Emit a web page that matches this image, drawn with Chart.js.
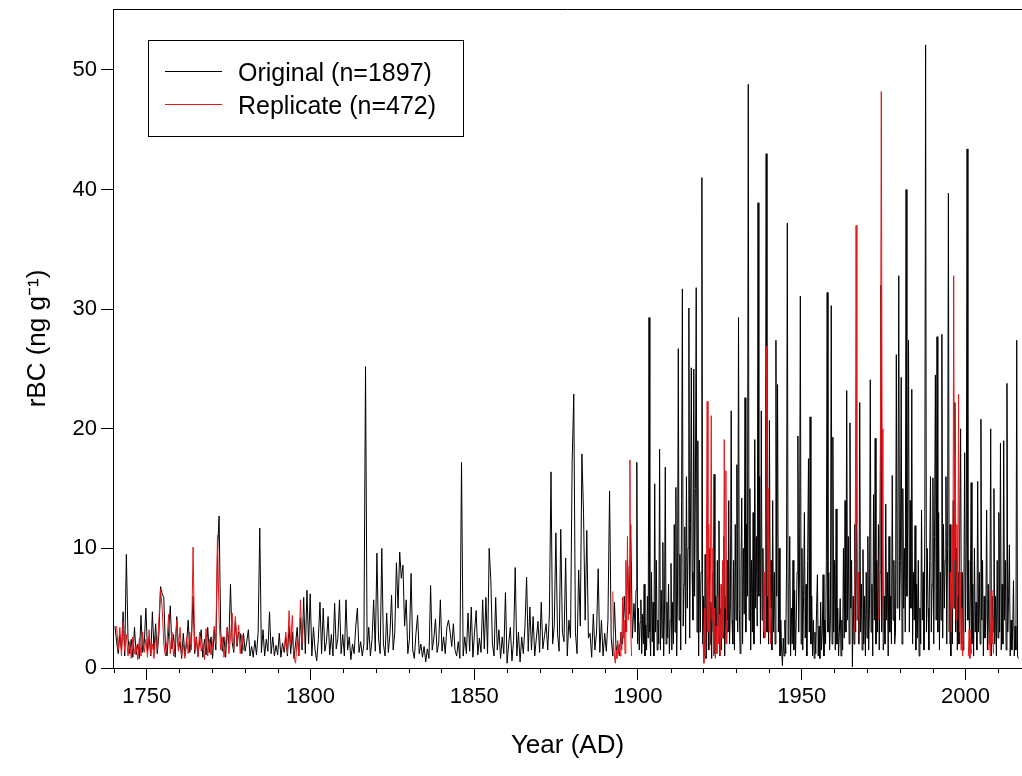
<!DOCTYPE html>
<html>
<head>
<meta charset="utf-8">
<script src="https://cdn.jsdelivr.net/npm/chart.js@4.4.1/dist/chart.umd.min.js"></script>
<style>
  html, body { margin: 0; padding: 0; background: #fff; }
</style>
</head>
<body>
<canvas id="myChart" width="1022" height="776"></canvas>
<script>
// axis ticks
var xMajorTicks = [1750, 1800, 1850, 1900, 1950, 2000];
var xMinorTicks = [1740, 1760, 1770, 1780, 1790, 1810, 1820, 1830, 1840, 1860, 1870, 1880, 1890,
                   1910, 1920, 1930, 1940, 1960, 1970, 1980, 1990, 2010];
var yTicks = [0, 10, 20, 30, 40, 50];

// original record, 1740 - ~1899, about two samples per year
var origEarlyStart = 1740.31, origEarlyStep = 0.4968;
var origE01 = [3.5,2.2,1.2,2.8,1.5,4.7,1.0,9.5,2.5,1.2,2.4,0.9,3.4,1.1,2.0,0.8,4.4,1.3,2.1,5.0];
var origE02 = [1.4,2.6,1.0,4.7,1.5,3.7,1.2,2.8,6.8,6.2,5.9,1.8,1.0,3.0,5.2,1.6,2.8,0.9,4.3,1.5];
var origE03 = [2.2,0.8,2.9,1.0,2.0,4.0,1.3,2.5,6.0,1.2,2.6,1.0,2.2,3.2,0.9,2.4,1.1,3.4,1.3,2.6];
var origE04 = [0.8,3.2,1.5,9.5,12.7,3.0,1.4,2.6,0.9,3.4,2.0,7.0,2.2,1.3,4.0,1.8,3.0,2.9,1.2,2.9];
var origE05 = [1.4,2.2,3.2,1.0,1.8,0.9,2.3,1.1,3.0,11.7,1.3,3.2,1.0,2.4,1.4,4.7,1.2,2.6,1.0,1.9];
var origE06 = [1.1,2.9,0.9,2.1,1.3,2.6,1.0,3.5,1.2,3.0,0.8,2.0,3.4,1.0,4.2,1.5,5.9,1.2,6.5,2.0];
var origE07 = [6.2,1.0,3.4,1.5,0.6,2.4,5.5,1.2,5.0,1.4,2.2,4.3,1.1,2.8,1.0,5.4,1.6,2.5,5.7,1.2];
var origE08 = [2.8,1.0,5.7,1.5,2.6,0.7,2.0,1.2,3.5,5.0,1.3,2.2,1.0,2.0,25.2,1.5,3.4,1.0,2.4,5.7];
var origE09 = [1.4,9.6,2.5,1.2,10.0,2.0,1.0,4.6,1.3,2.8,6.1,1.5,3.0,8.8,5.0,9.7,7.5,8.6,3.5,5.7];
var origE10 = [1.2,2.4,7.9,1.5,0.8,2.9,4.4,1.2,2.0,0.9,1.8,0.5,1.6,0.8,6.9,1.5,2.5,4.1,1.3,2.1];
var origE11 = [5.7,1.4,2.6,1.2,3.4,4.0,3.0,1.8,3.7,1.5,1.0,2.2,0.8,17.2,1.0,2.6,1.2,4.6,1.4,5.1];
var origE12 = [0.9,3.0,4.8,1.1,2.5,1.3,5.7,1.6,5.9,1.2,10.0,7.4,2.0,1.0,5.9,1.5,3.2,0.8,2.6,1.2];
var origE13 = [6.3,0.4,2.0,3.4,0.6,2.3,8.4,1.0,3.0,0.5,2.6,1.2,3.5,7.6,1.4,5.1,1.5,4.3,1.0,2.5];
var origE14 = [3.9,1.3,5.5,1.6,2.7,3.7,1.5,4.5,16.4,2.0,3.5,11.3,2.9,1.4,11.6,3.0,2.2,9.2,1.0,4.0];
var origE15 = [2.5,17.2,22.9,3.0,1.2,8.2,3.5,17.9,12.9,4.0,11.5,2.5,2.9,0.9,4.5,1.5,3.0,8.3,1.3,4.0];
var origE16 = [1.0,2.9,1.4,4.0,14.8,2.5,1.0,5.5,1.5,2.0,1.0,3.0,2.0,6.0,3.0,9.0,4.5,12.0,2.5,5.4];

// original record, ~1899 - 2016, about four samples per year
var origLateStart = 1899.16, origLateStep = 0.2484;
var origL01 = [3.0,6.5,17.2,2.0,5.0,1.5,3.8,5.7,1.2,4.5,2.0,7.0,1.0,3.6,1.5,6.0,2.5,29.3,3.0,1.0,
               8.0,2.2,5.5,1.0,15.4,3.0,9.0,1.5,4.0,2.0,18.3,1.5,6.5,2.5,10.5,1.0,4.5,16.8,2.0,5.5];
var origL02 = [2.5,7.0,1.2,4.0,8.75,1.5,5.5,2.0,12.0,3.0,15.1,1.0,6.0,26.7,4.0,9.5,1.5,14.0,31.7,3.5,
               7.0,11.8,2.0,16.0,5.0,10.0,30.1,2.5,12.0,25.1,8.0,4.0,25.0,6.0,15.0,31.8,3.0,19.0,1.0,9.0];
var origL03 = [3.0,8.0,41.0,2.0,6.0,1.0,9.5,0.8,4.0,7.5,1.5,10.0,2.0,5.5,0.8,8.0,3.0,16.2,1.2,6.0,
               2.0,9.0,3.5,12.3,1.0,5.0,1.5,7.0,2.5,11.0,1.0,6.0,2.0,9.0,3.0,14.0,2.0,5.0,21.5,4.0];
var origL04 = [2.0,9.0,1.5,12.0,4.0,17.0,3.0,29.3,5.0,1.2,8.0,14.2,2.0,10.0,4.5,22.6,3.0,12.0,6.0,48.8,
               4.0,15.0,1.5,9.0,3.0,13.0,2.0,19.1,5.0,11.0,3.5,38.9,6.0,16.0,2.0,21.5,4.0,10.0,2.5,7.0];
var origL05 = [6.0,43.0,3.0,12.0,2.0,20.7,5.0,9.0,1.5,14.0,3.0,8.0,2.0,27.4,6.0,23.7,3.0,10.0,1.0,4.0,
               1.5,0.2,2.5,1.0,4.0,1.2,8.0,37.2,2.0,6.0,11.0,1.0,5.0,2.0,9.0,1.5,6.5,1.0,4.0,8.0];
var origL06 = [19.4,3.0,8.0,31.1,2.0,10.0,1.5,6.0,13.0,2.5,7.0,1.0,9.0,17.5,3.0,21.0,2.0,6.0,1.0,4.0,
               0.8,3.0,1.2,5.0,7.8,1.0,3.5,0.8,5.5,1.5,3.0,7.8,1.0,4.0,2.0,9.0,31.4,3.0,8.0,1.5];
var origL07 = [4.0,30.3,2.0,19.3,3.0,9.0,1.5,13.3,2.0,5.0,1.0,3.0,5.8,1.0,4.0,1.5,10.0,2.5,14.0,3.0,
               23.2,4.0,11.0,2.0,20.5,5.0,9.0,0.1,6.0,2.0,12.0,3.0,15.0,4.0,8.0,2.0,22.2,3.0,7.0,1.5];
var origL08 = [9.9,2.0,6.0,1.0,8.0,2.5,11.0,1.5,5.0,24.1,3.0,7.0,1.0,14.5,4.0,19.2,2.0,9.0,3.0,12.0,
               1.5,8.0,32.0,3.0,10.0,1.5,6.0,2.0,13.7,4.0,8.0,1.0,11.0,3.0,6.0,2.0,16.1,4.0,9.0,2.0];
var origL09 = [3.0,26.2,5.0,12.0,32.8,4.0,9.0,24.3,2.0,15.0,5.0,10.0,3.0,40.0,6.0,12.0,27.4,3.0,14.0,5.0,
               23.3,2.0,8.0,4.0,11.9,1.5,7.0,2.5,9.0,1.0,5.0,2.0,13.2,4.0,8.0,1.5,12.0,52.1,3.0,10.0];
var origL10 = [5.0,1.5,9.0,16.0,3.0,7.0,15.9,2.0,11.0,24.5,4.0,27.7,3.0,13.0,1.5,8.0,4.0,27.9,2.5,12.0,
               5.0,9.0,16.0,2.0,10.0,39.7,3.0,12.0,1.0,7.0,2.0,14.0,5.0,22.2,3.0,10.0,1.5,8.0,2.0,12.0];
var origL11 = [20.0,2.0,8.0,1.5,6.0,18.0,3.0,10.0,43.4,4.0,9.0,1.5,6.0,15.5,2.0,7.0,1.0,10.0,3.0,5.5,
               1.5,15.6,3.0,8.0,2.0,20.8,4.0,9.0,1.0,6.0,2.5,4.0,13.2,1.5,7.0,2.0,5.0,20.0,1.0,6.0];
var origL12 = [3.0,15.0,2.0,6.0,1.0,9.0,2.5,13.0,3.0,18.8,1.5,7.0,2.0,19.0,4.0,9.0,1.5,23.8,3.0,6.0,
               10.3,1.0,4.0,1.5,3.0,7.3,1.0,3.5,1.5,27.4,1.0,0.8];

// replicate record: separate runs, [start year, step, values]
var rep1 = [3.5,1.5,3.4,1.0,3.9,1.4,2.8,1.0,2.2,0.8,2.6,1.2,1.9,0.7,2.5,1.0,3.0,1.3,2.4,0.9,
            3.2,1.1,2.0,0.8,2.7,1.5,4.0,6.6,5.0,2.0,1.0,2.3,4.5,1.2,3.0,1.0,2.2,4.0,1.4,3.4,
            1.0,2.0,0.8,2.6,1.2,3.0,1.5,10.1,1.5,2.5,0.9,3.0,1.4,2.0,0.7,3.3,1.0,2.4,1.1,2.0,
            3.5,2.0,11.1,4.0,1.5,2.6,0.9,2.0,3.4,1.2,2.5,4.6,1.5,4.3,2.0,3.6,1.2,2.8,1.5];
var rep2 = [1.5,3.0,1.2,4.8,2.0,4.4,1.0,0.4,2.5,1.0,5.7,2.0,4.5];
var rep3 = [6.4,2.0,1.0,0.4,1.5,0.8,2.3,1.2,2.0,1.0,3.0,1.5,5.9,2.5,4.0,1.2,9.0,3.0,11.0,4.0,8.5,17.4,3.5,1.0];
var rep4 = [2.0,0.4,5.0,1.0,9.0,22.3,3.0,12.0,1.5,8.0,21.1,4.0,10.0,1.0,5.0,0.8,3.5,1.2,6.0,2.0,
            4.5,1.0,7.0,2.5,9.0,3.0,19.1,5.0,16.5,2.0,4.0];
var rep5 = [3.0,8.0,2.5,12.0,26.9,6.0,15.0,3.0,9.0,2.0,5.0];
var rep6 = [3.0,9.0,37.0,12.0,4.0,8.0,2.0];
var rep7 = [4.0,12.0,20.0,48.2,20.0,6.0,2.0];
var rep8 = [2.0,8.0,3.0,11.9,5.0,32.8,9.0,18.0,4.0,12.0,6.0,22.9,3.0,8.0,1.5,5.0,1.0,3.0];
var rep9 = [1.0,3.2,0.8,2.5,1.2];
var rep10 = [1.5,3.0,1.0,6.5,2.0,4.0,1.2];
var repRuns = [
  [1740.81, 0.4968, rep1],
  [1791.98, 0.4968, rep2],
  [1892.33, 0.2484, rep3],
  [1919.90, 0.2484, rep4],
  [1938.28, 0.2484, rep5],
  [1966.11, 0.2484, rep6],
  [1973.56, 0.2484, rep7],
  [1995.17, 0.2484, rep8],
  [2000.88, 0.2484, rep9],
  [2007.09, 0.2484, rep10]
];

function series(start, step, chunks) {
  var pts = [];
  var i = 0;
  chunks.forEach(function(arr) {
    arr.forEach(function(v) {
      pts.push({x: start + i * step, y: v});
      i++;
    });
  });
  return pts;
}

var originalData = series(origEarlyStart, origEarlyStep,
    [origE01, origE02, origE03, origE04, origE05, origE06, origE07, origE08,
     origE09, origE10, origE11, origE12, origE13, origE14, origE15, origE16])
  .concat(series(origLateStart, origLateStep,
    [origL01, origL02, origL03, origL04, origL05, origL06,
     origL07, origL08, origL09, origL10, origL11, origL12]));

var replicateData = [];
repRuns.forEach(function(run) {
  var pts = series(run[0], run[1], [run[2]]);
  if (replicateData.length) {
    replicateData.push({x: pts[0].x - 0.01, y: null}); // break the line between runs
  }
  replicateData = replicateData.concat(pts);
});

var redColor = 'rgb(226,24,28)';
var FONT = "'Liberation Sans', Arial, Helvetica, sans-serif";
Chart.defaults.font.family = FONT;
Chart.defaults.color = '#000';

// top frame line and the small 10-year ticks
var frameTicks = {
  id: 'frameTicks',
  afterDraw: function(chart) {
    var ctx = chart.ctx;
    var a = chart.chartArea;
    var xs = chart.scales.x;
    ctx.save();
    ctx.strokeStyle = '#000';
    ctx.lineWidth = 1;
    ctx.beginPath();
    ctx.moveTo(a.left, a.top + 0.5);
    ctx.lineTo(a.right, a.top + 0.5);
    xMinorTicks.forEach(function(yr) {
      var px = Math.round(xs.getPixelForValue(yr)) + 0.5;
      ctx.moveTo(px, a.bottom);
      ctx.lineTo(px, a.bottom + 5);
    });
    ctx.stroke();
    ctx.restore();
  }
};

// boxed legend inside the plot
var boxLegend = {
  id: 'boxLegend',
  afterDraw: function(chart) {
    var ctx = chart.ctx;
    var ds = chart.data.datasets;
    ctx.save();
    ctx.fillStyle = '#fff';
    ctx.fillRect(148, 40, 315, 97);
    ctx.strokeStyle = '#000';
    ctx.lineWidth = 1;
    ctx.strokeRect(148.5, 40.5, 315, 96);
    ctx.font = '25px ' + FONT;
    ctx.textBaseline = 'alphabetic';
    ctx.textAlign = 'left';
    var rows = [[ds[0], 71.5, 81], [ds[1], 104.5, 114]];
    rows.forEach(function(r) {
      ctx.strokeStyle = r[0].borderColor;
      ctx.beginPath();
      ctx.moveTo(165, r[1]);
      ctx.lineTo(222, r[1]);
      ctx.stroke();
      ctx.fillStyle = '#000';
      ctx.fillText(r[0].label, 238, r[2]);
    });
    ctx.restore();
  }
};

var ctx = document.getElementById('myChart');
var myChart = new Chart(ctx, {
  type: 'line',
  data: {
    datasets: [
      {
        label: 'Original (n=1897)',
        data: originalData,
        borderColor: '#000',
        borderWidth: 1,
        borderJoinStyle: 'bevel',
        pointRadius: 0,
        tension: 0,
        fill: false,
        order: 1
      },
      {
        label: 'Replicate (n=472)',
        data: replicateData,
        borderColor: redColor,
        borderWidth: 1,
        borderJoinStyle: 'bevel',
        pointRadius: 0,
        tension: 0,
        fill: false,
        spanGaps: false,
        order: 0
      }
    ]
  },
  options: {
    responsive: false,
    animation: false,
    events: [],
    layout: { padding: { top: 9, left: 0, right: 0, bottom: 0 } },
    plugins: { legend: { display: false }, tooltip: { enabled: false } },
    scales: {
      x: {
        type: 'linear',
        min: 1739.71,
        max: 2017.27,
        afterBuildTicks: function(s) { s.ticks = xMajorTicks.map(function(v) { return {value: v}; }); },
        afterFit: function(s) { s.height = 108; s.paddingLeft = 0; s.paddingRight = 0; },
        grid: { drawOnChartArea: false, drawTicks: true, tickLength: 12, tickColor: '#000', tickWidth: 1 },
        border: { display: true, color: '#000', width: 1 },
        ticks: {
          color: '#000', font: { size: 22 }, padding: 4, maxRotation: 0, autoSkip: false,
          callback: function(v) { return String(v); }
        },
        title: {
          display: true, text: 'Year (AD)', color: '#000',
          font: { size: 26 }, padding: { top: 0, bottom: 15 }
        }
      },
      y: {
        min: 0,
        max: 55.1,
        afterBuildTicks: function(s) { s.ticks = yTicks.map(function(v) { return {value: v}; }); },
        afterFit: function(s) { s.width = 113; s.paddingTop = 0; s.paddingBottom = 0; },
        grid: { drawOnChartArea: false, drawTicks: true, tickLength: 12, tickColor: '#000', tickWidth: 1 },
        border: { display: true, color: '#000', width: 1 },
        ticks: {
          color: '#000', font: { size: 22 }, padding: 4,
          callback: function(v) { return String(v); }
        },
        title: {
          display: true, text: 'rBC (ng g\u207B\u00B9)', color: '#000',
          font: { size: 26 }, padding: { top: 22, bottom: 0 }
        }
      }
    }
  },
  plugins: [frameTicks, boxLegend]
});
</script>
</body>
</html>
